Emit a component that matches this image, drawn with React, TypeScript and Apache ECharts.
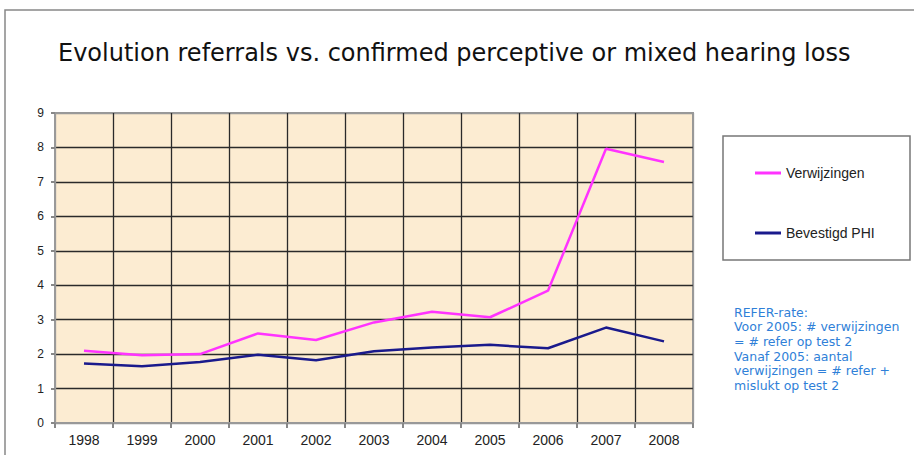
import React, { useEffect, useRef } from "react";
import * as echarts from "echarts";

const years = ["1998", "1999", "2000", "2001", "2002", "2003", "2004", "2005", "2006", "2007", "2008"];
const verwijzingen = [2.1, 1.97, 2.0, 2.6, 2.41, 2.92, 3.23, 3.07, 3.84, 7.96, 7.58];
const bevestigdPHI = [1.73, 1.65, 1.77, 1.98, 1.82, 2.08, 2.19, 2.27, 2.17, 2.77, 2.37];
const noteLines = [
  "REFER-rate:",
  "Voor 2005: # verwijzingen",
  "= # refer op test 2",
  "Vanaf 2005: aantal",
  "verwijzingen = # refer +",
  "mislukt op test 2",
];

export default function App() {
  const ref = useRef<HTMLDivElement>(null);
  useEffect(() => {
    if (!ref.current) return;
    const chart = echarts.init(ref.current, undefined, { renderer: "svg" });
    const ySplit = Array.from({ length: 10 }, (_, i) => (i === 0 || i === 9 ? "#999" : "#2a2a2a"));
    const xSplit = Array.from({ length: 12 }, (_, i) => (i === 0 || i === 11 ? "#999" : "#2a2a2a"));
    chart.setOption({
      animation: false,
      backgroundColor: "#ffffff",
      title: {
        text: "Evolution referrals vs. confirmed perceptive or mixed hearing loss",
        left: 53,
        top: 36,
        textStyle: { fontFamily: "DejaVu Sans", fontSize: 24, fontWeight: "normal", color: "#111" },
      },
      grid: {
        left: 55,
        right: 221,
        top: 113,
        bottom: 32,
        show: true,
        backgroundColor: "#fcecd2",
        borderColor: "#999",
        borderWidth: 2,
      },
      xAxis: {
        type: "category",
        data: years,
        boundaryGap: true,
        axisLine: { lineStyle: { color: "#999", width: 2 } },
        axisTick: { show: true, alignWithLabel: false, length: 5, lineStyle: { color: "#888", width: 2 } },
        axisLabel: { fontFamily: "Liberation Sans", fontSize: 14, color: "#222", margin: 10 },
        splitLine: { show: true, lineStyle: { color: xSplit, width: 1.3 } },
      },
      yAxis: {
        type: "value",
        min: 0,
        max: 9,
        interval: 1,
        axisLine: { show: true, lineStyle: { color: "#999", width: 2 } },
        axisTick: { show: true, length: 4, lineStyle: { color: "#888", width: 2 } },
        axisLabel: { fontFamily: "Liberation Sans", fontSize: 12, color: "#222", margin: 11 },
        splitLine: { show: true, lineStyle: { color: ySplit, width: 1.3 } },
      },
      legend: {
        orient: "vertical",
        left: 750,
        top: 161,
        itemWidth: 26,
        itemHeight: 3,
        itemGap: 46,
        icon: "rect",
        textStyle: { fontFamily: "Liberation Sans", fontSize: 14, color: "#222" },
        data: ["Verwijzingen", "Bevestigd PHI"],
      },
      graphic: [
        {
          type: "rect",
          shape: { x: 5, y: 10, width: 1000, height: 600 },
          style: { fill: "none", stroke: "#888", lineWidth: 1.5 },
          z: -10,
          silent: true,
        },
        {
          type: "rect",
          shape: { x: 723, y: 136, width: 187, height: 124 },
          style: { fill: "#ffffff", stroke: "#777", lineWidth: 1.5 },
          z: -1,
          silent: true,
        },
        {
          type: "text",
          left: 734,
          top: 305,
          style: {
            text: noteLines.join("\n"),
            fontFamily: "DejaVu Sans",
            fontSize: 12.5,
            lineHeight: 14.6,
            fill: "#2f7fd8",
          },
        },
      ],
      series: [
        {
          name: "Verwijzingen",
          type: "line",
          data: verwijzingen,
          symbol: "none",
          lineStyle: { color: "#ff33ff", width: 2.5 },
          itemStyle: { color: "#ff33ff" },
        },
        {
          name: "Bevestigd PHI",
          type: "line",
          data: bevestigdPHI,
          symbol: "none",
          lineStyle: { color: "#1a1a8c", width: 2.5 },
          itemStyle: { color: "#1a1a8c" },
        },
      ],
    });
    return () => chart.dispose();
  }, []);
  return <div ref={ref} style={{ width: 914, height: 455, position: "absolute", left: 0, top: 0 }} />;
}
